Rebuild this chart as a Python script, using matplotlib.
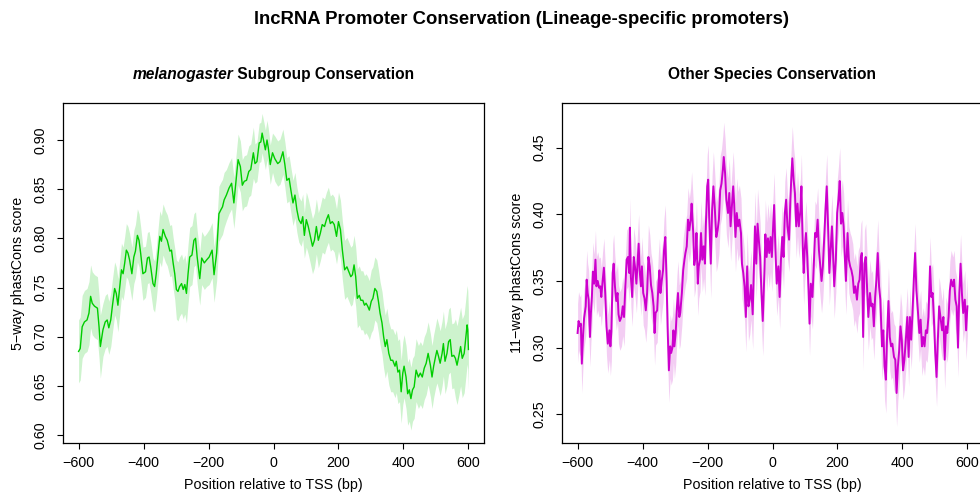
import numpy as np
import matplotlib
matplotlib.use("Agg")
import matplotlib.pyplot as plt

plt.rcParams['font.family'] = ['Liberation Sans', 'DejaVu Sans']

# melanogaster subgroup (5-way) mean phastCons around the TSS
mel_bp = [
    -600, -595, -589, -582, -574, -568, -563, -558, -551, -542,
    -537, -533, -525, -518, -512, -507, -501, -496, -489, -484,
    -479, -474, -468, -463, -458, -453, -448, -443, -436, -430,
    -425, -419, -414, -409, -402, -394, -388, -383, -378, -371,
    -366, -361, -355, -350, -345, -340, -333, -327, -319, -314,
    -309, -304, -299, -294, -289, -283, -278, -273, -268, -263,
    -258, -251, -245, -240, -235, -227, -221, -213, -206, -198,
    -189, -183, -175, -168, -162, -157, -152, -145, -137, -129,
    -122, -116, -109, -102, -96, -90, -83, -76, -70, -62,
    -57, -51, -44, -39, -35, -29, -25, -20, -16, -10,
    -3, 4, 13, 20, 29, 35, 41, 48, 54, 60,
    66, 72, 78, 85, 90, 95, 101, 107, 113, 120,
    126, 132, 138, 144, 150, 157, 163, 169, 175, 181,
    187, 194, 200, 206, 212, 219, 226, 232, 238, 243,
    248, 253, 258, 264, 269, 275, 280, 285, 290, 295,
    301, 306, 312, 318, 323, 328, 334, 339, 344, 349,
    355, 361, 367, 374, 378, 383, 388, 393, 398, 402,
    408, 413, 418, 423, 428, 433, 439, 446, 452, 458,
    464, 470, 476, 483, 488, 493, 499, 503, 508, 513,
    519, 523, 528, 534, 539, 544, 549, 555, 560, 565,
    571, 576, 581, 587, 593, 596, 598, 600,
]
mel_score = [
    0.685, 0.688, 0.710, 0.715, 0.717, 0.724, 0.741, 0.734, 0.731, 0.729,
    0.710, 0.690, 0.707, 0.715, 0.717, 0.709, 0.717, 0.731, 0.749, 0.744,
    0.732, 0.748, 0.768, 0.764, 0.775, 0.788, 0.785, 0.778, 0.764, 0.781,
    0.787, 0.803, 0.798, 0.785, 0.764, 0.766, 0.780, 0.781, 0.771, 0.754,
    0.751, 0.764, 0.785, 0.802, 0.797, 0.809, 0.802, 0.798, 0.787, 0.788,
    0.775, 0.764, 0.748, 0.746, 0.751, 0.754, 0.748, 0.753, 0.744, 0.764,
    0.781, 0.783, 0.798, 0.800, 0.781, 0.759, 0.780, 0.775, 0.778, 0.781,
    0.788, 0.763, 0.785, 0.825, 0.829, 0.832, 0.839, 0.844, 0.851, 0.856,
    0.836, 0.856, 0.880, 0.873, 0.854, 0.858, 0.859, 0.868, 0.870, 0.887,
    0.876, 0.878, 0.897, 0.898, 0.907, 0.897, 0.890, 0.900, 0.892, 0.875,
    0.887, 0.881, 0.876, 0.878, 0.888, 0.875, 0.859, 0.861, 0.848, 0.836,
    0.844, 0.829, 0.819, 0.815, 0.822, 0.803, 0.819, 0.812, 0.803, 0.792,
    0.798, 0.812, 0.798, 0.805, 0.814, 0.812, 0.819, 0.824, 0.815, 0.817,
    0.814, 0.802, 0.817, 0.809, 0.788, 0.768, 0.771, 0.766, 0.761, 0.763,
    0.773, 0.761, 0.739, 0.742, 0.737, 0.737, 0.732, 0.734, 0.731, 0.727,
    0.736, 0.739, 0.749, 0.746, 0.736, 0.724, 0.714, 0.700, 0.690, 0.697,
    0.683, 0.676, 0.676, 0.670, 0.675, 0.664, 0.666, 0.644, 0.663, 0.670,
    0.659, 0.642, 0.646, 0.637, 0.646, 0.649, 0.666, 0.659, 0.663, 0.659,
    0.668, 0.673, 0.683, 0.671, 0.659, 0.670, 0.680, 0.686, 0.680, 0.673,
    0.683, 0.693, 0.675, 0.683, 0.695, 0.697, 0.680, 0.681, 0.678, 0.671,
    0.681, 0.690, 0.678, 0.683, 0.702, 0.712, 0.707, 0.687,
]
# standard error, read per stretch of the window (stretch start in bp)
mel_se_from = [-600, -530, -400, -300, -250, -200, -150, -60, 0, 100, 200, 300, 500, 560]
mel_se = [0.032, 0.027, 0.026, 0.030, 0.027, 0.028, 0.026, 0.020, 0.023, 0.028, 0.030, 0.032, 0.033, 0.040]

# other species (11-way) mean phastCons around the TSS
oth_bp = [
    -600, -597, -593, -590, -587, -583, -580, -575, -572, -569,
    -566, -562, -559, -556, -553, -549, -545, -542, -538, -534,
    -530, -527, -523, -519, -515, -511, -507, -502, -499, -496,
    -492, -489, -485, -481, -477, -474, -470, -465, -461, -457,
    -453, -449, -445, -441, -439, -436, -432, -427, -423, -419,
    -415, -412, -409, -405, -402, -398, -394, -390, -386, -382,
    -378, -374, -370, -366, -363, -360, -355, -351, -348, -345,
    -341, -337, -334, -330, -326, -323, -319, -315, -312, -308,
    -305, -302, -298, -294, -291, -287, -284, -279, -275, -271,
    -268, -264, -260, -256, -252, -249, -244, -241, -237, -234,
    -230, -227, -223, -220, -216, -212, -208, -205, -201, -198,
    -195, -190, -186, -182, -178, -173, -169, -165, -161, -157,
    -153, -150, -146, -142, -137, -133, -129, -125, -121, -118,
    -114, -110, -106, -102, -97, -94, -90, -86, -82, -78,
    -74, -70, -66, -61, -57, -54, -50, -46, -42, -38,
    -34, -30, -25, -22, -18, -14, -10, -6, -2, 1,
    5, 9, 13, 18, 22, 26, 30, 34, 38, 42,
    46, 51, 55, 58, 61, 65, 69, 73, 77, 81,
    86, 89, 93, 96, 99, 103, 107, 111, 114, 118,
    123, 127, 131, 135, 139, 143, 147, 151, 155, 160,
    163, 167, 171, 175, 179, 183, 186, 190, 195, 199,
    203, 207, 211, 215, 219, 223, 226, 231, 235, 239,
    243, 247, 251, 255, 260, 264, 268, 272, 275, 279,
    283, 287, 291, 295, 300, 304, 308, 312, 316, 320,
    324, 328, 332, 337, 341, 345, 349, 353, 357, 361,
    365, 369, 374, 378, 382, 386, 390, 394, 398, 402,
    406, 411, 415, 419, 423, 427, 431, 435, 439, 443,
    448, 452, 456, 460, 464, 468, 472, 476, 480, 485,
    489, 493, 497, 501, 505, 509, 513, 518, 522, 526,
    530, 534, 538, 542, 546, 550, 555, 559, 563, 567,
    571, 575, 579, 583, 587, 592, 596, 600,
]
oth_score = [
    0.311, 0.320, 0.316, 0.318, 0.288, 0.310, 0.322, 0.331, 0.351, 0.341,
    0.336, 0.308, 0.326, 0.338, 0.357, 0.348, 0.366, 0.346, 0.350, 0.345,
    0.346, 0.338, 0.350, 0.360, 0.341, 0.316, 0.303, 0.313, 0.301, 0.312,
    0.356, 0.363, 0.346, 0.335, 0.341, 0.325, 0.320, 0.323, 0.331, 0.323,
    0.346, 0.366, 0.368, 0.356, 0.390, 0.353, 0.338, 0.368, 0.360, 0.348,
    0.366, 0.378, 0.358, 0.346, 0.361, 0.341, 0.337, 0.328, 0.341, 0.368,
    0.361, 0.347, 0.341, 0.331, 0.311, 0.326, 0.328, 0.348, 0.358, 0.341,
    0.350, 0.358, 0.373, 0.383, 0.350, 0.316, 0.283, 0.301, 0.296, 0.300,
    0.313, 0.301, 0.311, 0.331, 0.341, 0.323, 0.326, 0.341, 0.358, 0.366,
    0.371, 0.376, 0.396, 0.388, 0.396, 0.408, 0.386, 0.362, 0.368, 0.386,
    0.348, 0.361, 0.366, 0.386, 0.366, 0.376, 0.363, 0.393, 0.421, 0.426,
    0.398, 0.363, 0.403, 0.421, 0.406, 0.383, 0.388, 0.396, 0.418, 0.423,
    0.433, 0.443, 0.431, 0.411, 0.401, 0.416, 0.391, 0.406, 0.421, 0.408,
    0.383, 0.401, 0.391, 0.396, 0.386, 0.363, 0.356, 0.346, 0.323, 0.361,
    0.331, 0.336, 0.347, 0.325, 0.363, 0.391, 0.363, 0.393, 0.381, 0.368,
    0.341, 0.320, 0.356, 0.385, 0.368, 0.382, 0.371, 0.383, 0.368, 0.386,
    0.407, 0.373, 0.348, 0.361, 0.338, 0.366, 0.383, 0.368, 0.401, 0.411,
    0.391, 0.381, 0.411, 0.428, 0.442, 0.426, 0.416, 0.391, 0.408, 0.391,
    0.403, 0.421, 0.376, 0.356, 0.373, 0.386, 0.368, 0.343, 0.318, 0.348,
    0.338, 0.361, 0.386, 0.383, 0.396, 0.373, 0.361, 0.350, 0.361, 0.386,
    0.403, 0.421, 0.391, 0.356, 0.373, 0.391, 0.373, 0.346, 0.366, 0.401,
    0.411, 0.425, 0.393, 0.401, 0.391, 0.366, 0.350, 0.386, 0.366, 0.361,
    0.358, 0.353, 0.341, 0.346, 0.336, 0.348, 0.351, 0.368, 0.371, 0.308,
    0.363, 0.368, 0.346, 0.323, 0.341, 0.331, 0.333, 0.316, 0.338, 0.351,
    0.371, 0.346, 0.336, 0.301, 0.313, 0.286, 0.276, 0.311, 0.335, 0.308,
    0.301, 0.303, 0.293, 0.291, 0.266, 0.286, 0.298, 0.316, 0.306, 0.283,
    0.291, 0.308, 0.323, 0.293, 0.323, 0.306, 0.326, 0.351, 0.371, 0.343,
    0.326, 0.311, 0.321, 0.301, 0.308, 0.301, 0.313, 0.311, 0.323, 0.361,
    0.338, 0.341, 0.321, 0.296, 0.278, 0.306, 0.331, 0.321, 0.313, 0.323,
    0.291, 0.316, 0.311, 0.323, 0.343, 0.351, 0.346, 0.351, 0.336, 0.331,
    0.300, 0.341, 0.363, 0.341, 0.326, 0.336, 0.313, 0.331,
]
oth_se_from = [-600, -400, -200, 0, 200, 400]
oth_se = [0.022, 0.024, 0.026, 0.024, 0.025, 0.022]

xticks = [-600, -400, -200, 0, 200, 400, 600]
mel_yticks = [0.60, 0.65, 0.70, 0.75, 0.80, 0.85, 0.90]
oth_yticks = [0.25, 0.30, 0.35, 0.40, 0.45]

FS = 10.3


def stretch_se(bp, starts, se):
    idx = np.searchsorted(starts, bp, side='right') - 1
    return np.asarray(se)[idx]


def panel(ax, bp, score, se, line_col, band_col, lw, ylim, yticks, ylabel):
    bp = np.asarray(bp)
    score = np.asarray(score)
    ax.fill_between(bp, score - se, score + se, color=band_col, lw=0)
    ax.plot(bp, score, color=line_col, lw=lw)
    ax.set_xlim(-648, 648)
    ax.set_ylim(*ylim)
    ax.set_xticks(xticks)
    ax.set_yticks(yticks)
    ax.set_yticklabels([f"{t:.2f}" for t in yticks], rotation=90, va='center')
    ax.tick_params(direction='out', length=4.3, width=0.8, labelsize=FS, colors='black')
    ax.tick_params(axis='x', pad=5)
    ax.tick_params(axis='y', pad=7)
    for s in ax.spines.values():
        s.set_linewidth(0.9)
    ax.set_xlabel("Position relative to TSS (bp)", fontsize=FS)
    ax.xaxis.set_label_coords(0.5, -0.124)
    ax.xaxis.label.set_va('center')
    ax.set_ylabel(ylabel, fontsize=FS)
    ax.yaxis.set_label_coords(-0.107, 0.5)
    ax.yaxis.label.set_va('center')


W, H = 980, 495
fig = plt.figure(figsize=(W / 100, H / 100), dpi=100)
ax1 = fig.add_axes([63 / W, 52 / H, 421 / W, 340 / H])
ax2 = fig.add_axes([562 / W, 52 / H, 421 / W, 340 / H])

panel(ax1, mel_bp, mel_score, stretch_se(mel_bp, mel_se_from, mel_se),
      '#00CD00', '#CDF3CD', 1.0, (0.5919, 0.9376), mel_yticks, "5\u2212way phastCons score")
panel(ax2, oth_bp, oth_score, stretch_se(oth_bp, oth_se_from, oth_se),
      '#CD00CD', '#F3CDF3', 1.4, (0.2285, 0.4835), oth_yticks, "11\u2212way phastCons score")

fig.text(522 / W, 1 - 20 / H, "lncRNA Promoter Conservation (Lineage-specific promoters)",
         ha='center', va='center', fontsize=13.3, weight='bold')

# left subtitle: italic species name followed by bold text, centred over the panel
sub_y = 1 - 74 / H
t1 = fig.text(0, sub_y, "melanogaster", ha='left', va='center', fontsize=11.2,
              weight='bold', style='italic')
t2 = fig.text(0, sub_y, " Subgroup Conservation", ha='left', va='center', fontsize=11.2,
              weight='bold')
r = fig.canvas.get_renderer()
w1 = t1.get_window_extent(r).width
w2 = t2.get_window_extent(r).width
x0 = 273.5 - (w1 + w2) / 2
t1.set_x(x0 / W)
t2.set_x((x0 + w1) / W)

fig.text(772 / W, sub_y, "Other Species Conservation", ha='center', va='center',
         fontsize=11.2, weight='bold')

fig.savefig("out.png", dpi=100)
